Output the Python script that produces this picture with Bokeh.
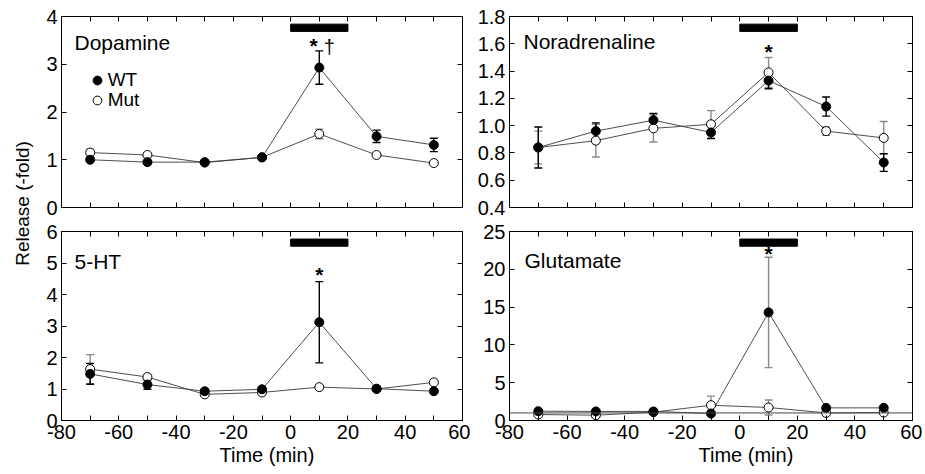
from bokeh.plotting import figure
from bokeh.models import (Range1d, LinearAxis, FixedTicker, Whisker, TeeHead,
                          ColumnDataSource, Label, Legend, LegendItem, Span, Title)
from bokeh.layouts import row, column
from bokeh.embed import file_html
from bokeh.resources import INLINE
from bokeh.core.properties import value

# ---------------- data ----------------
time_min = [-70, -50, -30, -10, 10, 30, 50]
stim_window = [0, 20]
baseline_fold = 1.0

x_ticks = [-80, -60, -40, -20, 0, 20, 40, 60]
x_tick_labels = ["-80", "-60", "-40", "-20", "0", "20", "40", "60"]
x_minor_ticks = [-70, -50, -30, -10, 10, 30, 50]

da_wt = [1.00, 0.95, 0.95, 1.05, 2.93, 1.49, 1.31]
da_wt_err = [0.03, 0.03, 0.03, 0.03, 0.35, 0.13, 0.14]
da_mut = [1.15, 1.10, 0.94, 1.05, 1.54, 1.10, 0.93]
da_mut_err = [0.07, 0.03, 0.03, 0.03, 0.10, 0.03, 0.03]
da_y_ticks = [0, 1, 2, 3, 4]
da_y_labels = ["0", "1", "2", "3", "4"]

na_wt = [0.84, 0.96, 1.04, 0.95, 1.33, 1.14, 0.73]
na_wt_err = [0.15, 0.06, 0.05, 0.045, 0.06, 0.07, 0.065]
na_mut = [0.84, 0.89, 0.98, 1.01, 1.39, 0.96, 0.91]
na_mut_err = [0.12, 0.12, 0.10, 0.10, 0.11, 0.03, 0.12]
na_y_ticks = [0.4, 0.6, 0.8, 1.0, 1.2, 1.4, 1.6, 1.8]
na_y_labels = ["0.4", "0.6", "0.8", "1.0", "1.2", "1.4", "1.6", "1.8"]

ht_wt = [1.48, 1.14, 0.93, 0.99, 3.12, 1.01, 0.93]
ht_wt_err = [0.33, 0.15, 0.05, 0.05, 1.29, 0.08, 0.05]
ht_mut = [1.63, 1.38, 0.83, 0.89, 1.06, 1.00, 1.21]
ht_mut_err = [0.46, 0.08, 0.05, 0.09, 0.05, 0.05, 0.05]
ht_y_ticks = [0, 1, 2, 3, 4, 5, 6]
ht_y_labels = ["0", "1", "2", "3", "4", "5", "6"]

glu_wt = [1.23, 1.20, 1.20, 0.92, 14.3, 1.67, 1.67]
glu_wt_err = [0.15, 0.15, 0.15, 0.15, 7.3, 0.2, 0.2]
glu_mut = [0.79, 0.70, 1.10, 2.02, 1.72, 1.00, 1.05]
glu_mut_err = [0.2, 0.2, 0.2, 1.2, 1.0, 0.2, 0.2]
glu_y_ticks = [0, 5, 10, 15, 20, 25]
glu_y_labels = ["0", "5", "10", "15", "20", "25"]

# significance marks: (time, level, symbol)
da_sig = [(8, 3.43, "*"), (13.5, 3.46, "†")]
na_sig = [(10, 1.56, "*")]
ht_sig = [(10, 4.71, "*")]
glu_sig = [(10, 22.3, "*")]

x_title = "Time (min)"
y_title = "Release (-fold)"

FONT = "Liberation Sans"
TICK_FS = "20px"


def style_axis(ax, ticker, show_labels, minor, standoff=4):
    ax.ticker = ticker
    ax.axis_line_color = "black"
    ax.axis_line_width = 1
    ax.major_tick_in = 5
    ax.major_tick_out = 0
    ax.major_tick_line_color = "black"
    if minor:
        ax.minor_tick_in = 5
        ax.minor_tick_out = 0
        ax.minor_tick_line_color = "black"
    else:
        ax.minor_tick_line_color = None
    ax.major_label_text_font = FONT
    ax.major_label_text_font_size = TICK_FS
    ax.major_label_text_color = "black" if show_labels else None
    ax.major_label_standoff = standoff if show_labels else 0


def make_panel(title, wt, wt_err, mut, mut_err, y_lo, y_hi, y_ticks, y_labels,
               top_row, left_col, title_off, sig, wt_err_color, xlab_left=None,
               legend=False, ref_line=False):
    fw = 401 if left_col else 403
    bl = 27 if left_col else 39
    br = 8 if left_col else 10
    if top_row:
        bt, bb, fh = 16, 10, 191
    else:
        bt, bb, fh = 14, 52, 189
    p = figure(width=bl + fw + br, height=bt + fh + bb,
               x_range=Range1d(-80, 60), y_range=Range1d(y_lo, y_hi),
               output_backend="svg", toolbar_location=None,
               min_border_left=bl, min_border_right=br,
               min_border_top=bt, min_border_bottom=bb)
    p.grid.visible = False
    p.outline_line_color = "black"
    p.outline_line_width = 1
    p.background_fill_color = "white"
    p.border_fill_color = "white"

    xt = lambda: FixedTicker(ticks=x_ticks, minor_ticks=x_minor_ticks)
    yt = lambda: FixedTicker(ticks=y_ticks, minor_ticks=[])

    xb = p.xaxis[0]
    style_axis(xb, xt(), not top_row, True, standoff=4)
    xb.major_label_overrides = dict(zip(x_ticks, x_tick_labels))
    yl = p.yaxis[0]
    style_axis(yl, yt(), True, False)
    yl.major_label_overrides = dict(zip(y_ticks, y_labels))

    xa = LinearAxis()
    style_axis(xa, xt(), False, True)
    p.add_layout(xa, "above")
    yr = LinearAxis()
    style_axis(yr, yt(), False, False)
    p.add_layout(yr, "right")

    span = y_hi - y_lo
    p.quad(left=[stim_window[0]], right=[stim_window[1]],
           top=[y_hi - 0.04 * span], bottom=[y_hi - 0.078 * span],
           fill_color="black", line_color="black")

    if ref_line:
        p.add_layout(Span(location=baseline_fold, dimension="width",
                          line_color="#444444", line_width=1))

    src = ColumnDataSource(dict(
        t=time_min, wt=wt, mut=mut,
        wt_lo=[v - e for v, e in zip(wt, wt_err)],
        wt_hi=[v + e for v, e in zip(wt, wt_err)],
        mut_lo=[v - e for v, e in zip(mut, mut_err)],
        mut_hi=[v + e for v, e in zip(mut, mut_err)],
    ))
    p.line("t", "mut", source=src, line_color="#3a3a3a", line_width=0.9)
    p.line("t", "wt", source=src, line_color="#3a3a3a", line_width=0.9)

    for lo, hi, col in (("mut_lo", "mut_hi", "#8a8a8a"), ("wt_lo", "wt_hi", wt_err_color)):
        w = Whisker(base="t", lower=lo, upper=hi, source=src, dimension="height",
                    line_color=col, line_width=1.4,
                    upper_head=TeeHead(size=8, line_color=col, line_width=1.4),
                    lower_head=TeeHead(size=8, line_color=col, line_width=1.4))
        p.add_layout(w)

    mut_r = p.scatter("t", "mut", source=src, size=9, fill_color="white",
                      line_color="black", line_width=1)
    wt_r = p.scatter("t", "wt", source=src, size=9, fill_color="black",
                     line_color="black", line_width=1)

    for sx, sy, s in sig:
        if s == "*":
            p.text(x=[sx], y=[sy], text=[s], text_font=value(FONT),
                   text_font_size="21px", text_font_style="bold",
                   text_align="center", text_baseline="middle", y_offset=2,
                   text_color="black")
        else:
            p.text(x=[sx], y=[sy], text=[s], text_font=value(FONT),
                   text_font_size="20px", text_align="center",
                   text_baseline="middle", y_offset=5, text_color="black")

    p.add_layout(Label(x=title_off[0], y=fh - title_off[1], x_units="screen",
                       y_units="screen", text=title, text_font=FONT,
                       text_font_size="21px", text_baseline="alphabetic",
                       text_color="black"))

    if xlab_left is not None:
        p.add_layout(Title(text=x_title, align="left", offset=xlab_left,
                           standoff=0, text_font=FONT, text_font_size=TICK_FS,
                           text_font_style="normal", text_color="black"),
                     "below")

    if legend:
        for lab_txt, rend, below_top in (("WT", wt_r, 75), ("Mut", mut_r, 95)):
            lg = Legend(items=[LegendItem(label=lab_txt, renderers=[rend])],
                        location=(24.7, fh - below_top), border_line_color=None,
                        background_fill_alpha=0, padding=0, margin=0, spacing=0,
                        glyph_width=22, glyph_height=22, label_height=22,
                        label_standoff=-5, label_text_font=FONT,
                        label_text_font_size="19px", label_text_color="black")
            p.add_layout(lg)
    return p


tl = make_panel("Dopamine", da_wt, da_wt_err, da_mut, da_mut_err, 0, 4,
                da_y_ticks, da_y_labels, True, True, (13, 26), da_sig, "black",
                legend=True)
tr = make_panel("Noradrenaline", na_wt, na_wt_err, na_mut, na_mut_err, 0.4, 1.8,
                na_y_ticks, na_y_labels, True, False, (14, 25), na_sig, "black")
bl = make_panel("5-HT", ht_wt, ht_wt_err, ht_mut, ht_mut_err, 0, 6,
                ht_y_ticks, ht_y_labels, False, True, (13, 30), ht_sig, "black",
                xlab_left=158)
br = make_panel("Glutamate", glu_wt, glu_wt_err, glu_mut, glu_mut_err, 0, 25,
                glu_y_ticks, glu_y_labels, False, False, (15, 29), glu_sig,
                "#8a8a8a", xlab_left=189, ref_line=True)

lab = figure(width=34, height=472, x_range=Range1d(0, 1), y_range=Range1d(0, 1),
             output_backend="svg", toolbar_location=None,
             min_border_left=32, min_border_right=0, min_border_top=16,
             min_border_bottom=82, x_axis_location=None, y_axis_location=None)
lab.outline_line_color = None
lab.grid.visible = False
yax = LinearAxis(ticker=FixedTicker(ticks=[]), axis_label=y_title,
                 axis_label_standoff=0, axis_line_color=None,
                 major_tick_line_color=None, minor_tick_line_color=None,
                 major_label_text_color=None, major_label_standoff=0,
                 major_tick_in=0, major_tick_out=0,
                 axis_label_text_font=FONT, axis_label_text_font_size="19px",
                 axis_label_text_font_style="normal",
                 axis_label_text_color="black")
lab.add_layout(yax, "left")

layout = row(lab, column(row(tl, tr), row(bl, br)))

open("out.html", "w").write(file_html(layout, INLINE))
